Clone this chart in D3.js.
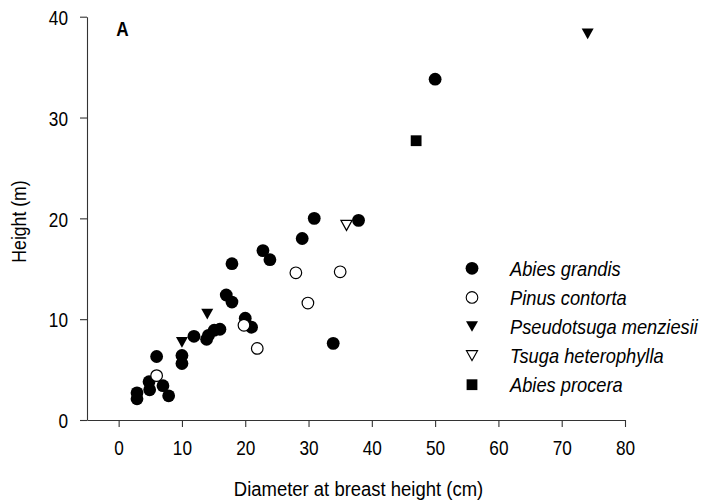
<!DOCTYPE html>
<html>
<head>
<meta charset="utf-8">
<script src="https://cdn.jsdelivr.net/npm/d3@7/dist/d3.min.js"></script>
<style>
  html, body { margin: 0; padding: 0; background: #fff; }
  svg { display: block; }
  text { font-family: "Liberation Sans", Arial, sans-serif; fill: #000; }
</style>
</head>
<body>
<svg id="chart" width="703" height="504"></svg>
<script>
// Diameter at breast height (cm) and tree height (m), per species
const abiesGrandisDbh    = [22.8, 23.9, 17.9, 17.0, 17.9, 20.0, 21.0, 11.9, 13.9, 14.2, 15.1, 16.0, 10.0, 10.0, 6.0, 4.8, 4.9, 7.0, 2.9, 2.9, 7.9, 30.9, 37.9, 29.0, 33.9, 50.0];
const abiesGrandisHeight = [16.8, 15.9, 15.5, 12.4, 11.7, 10.1, 9.2, 8.3, 8.0, 8.4, 8.9, 9.0, 6.4, 5.6, 6.3, 3.8, 3.0, 3.4, 2.7, 2.1, 2.4, 20.0, 19.8, 18.0, 7.6, 33.8];
const pinusContortaDbh    = [6.0, 19.8, 21.9, 28.0, 35.0, 29.9];
const pinusContortaHeight = [4.4, 9.4, 7.1, 14.6, 14.7, 11.6];
const pseudotsugaDbh    = [14.0, 10.0, 74.1];
const pseudotsugaHeight = [10.5, 7.7, 38.3];
const tsugaDbh    = [36.0];
const tsugaHeight = [19.3];
const abiesProceraDbh    = [47.0];
const abiesProceraHeight = [27.7];

const speciesNames = ["Abies grandis", "Pinus contorta", "Pseudotsuga menziesii", "Tsuga heterophylla", "Abies procera"];
const xTicks = [0, 10, 20, 30, 40, 50, 60, 70, 80];
const yTicks = [0, 10, 20, 30, 40];

const species = [
  { name: speciesNames[0], dbh: abiesGrandisDbh, height: abiesGrandisHeight, shape: "circle",   fill: "#000" },
  { name: speciesNames[1], dbh: pinusContortaDbh, height: pinusContortaHeight, shape: "circle",   fill: "#fff" },
  { name: speciesNames[2], dbh: pseudotsugaDbh, height: pseudotsugaHeight, shape: "triangle", fill: "#000" },
  { name: speciesNames[3], dbh: tsugaDbh, height: tsugaHeight, shape: "triangle", fill: "#fff" },
  { name: speciesNames[4], dbh: abiesProceraDbh, height: abiesProceraHeight, shape: "square",   fill: "#000" }
];

const svg = d3.select("#chart");

const x = d3.scaleLinear().domain([-5, 80]).range([87, 625]);
const y = d3.scaleLinear().domain([0, 40]).range([420, 16.7]);

// condensed text: place at (tx, ty) and squeeze horizontally
function placeNarrow(sel, tx, ty, sx, extra) {
  sel.attr("x", 0).attr("y", 0)
     .attr("transform", `translate(${tx},${ty})${extra || ""} scale(${sx},1)`);
  return sel;
}

// marker path centred on the origin
function markerPath(shape, filled) {
  if (shape === "circle") {
    const r = filled ? 6.4 : 5.8;
    const p = d3.path();
    p.arc(0, 0, r, 0, 2 * Math.PI);
    p.closePath();
    return p.toString();
  }
  if (shape === "triangle") {
    const w = filled ? 6 : 5.6, h = filled ? 5.3 : 5;
    return `M${-w},${-h}L${w},${-h}L0,${h}Z`;
  }
  const s = 5.4;
  return `M${-s},${-s}H${s}V${s}H${-s}Z`;
}

// axes
const xAxis = d3.axisBottom(x).tickValues(xTicks).tickSizeInner(7).tickSizeOuter(0);
const yAxis = d3.axisLeft(y).tickValues(yTicks).tickSizeInner(7).tickSizeOuter(0);

const gx = svg.append("g").attr("transform", "translate(0,420)").call(xAxis);
const gy = svg.append("g").attr("transform", "translate(87,0)").call(yAxis);

[gx, gy].forEach(g => {
  g.selectAll("path.domain").attr("stroke", "#333").attr("stroke-width", 1.1);
  g.selectAll(".tick line").attr("stroke", "#333").attr("stroke-width", 1.1);
  g.selectAll(".tick text")
    .attr("font-family", null)
    .attr("font-size", 21)
    .attr("fill", "#000")
    .attr("dy", null);
});
gx.selectAll(".tick text").each(function() {
  placeNarrow(d3.select(this), 0, 35.2, 0.82);
});
gy.selectAll(".tick text").each(function() {
  placeNarrow(d3.select(this), -19, 7.8, 0.82);
});

// axis titles
placeNarrow(svg.append("text"), 358.5, 495.5, 0.88)
  .attr("text-anchor", "middle")
  .attr("font-size", 21)
  .text("Diameter at breast height (cm)");

placeNarrow(svg.append("text"), 25.5, 221.5, 0.84, " rotate(-90)")
  .attr("text-anchor", "middle")
  .attr("font-size", 21)
  .text("Height (m)");

// panel letter
placeNarrow(svg.append("text"), 116.2, 35.5, 0.86)
  .attr("font-size", 20)
  .attr("font-weight", "bold")
  .text("A");

// points, species in drawing order
const plot = svg.append("g");
species.forEach(sp => {
  const filled = sp.fill === "#000";
  plot.selectAll(null)
    .data(sp.dbh.map((d, i) => [d, sp.height[i]]))
    .enter().append("path")
    .attr("d", markerPath(sp.shape, filled))
    .attr("transform", d => `translate(${x(d[0])},${y(d[1])})`)
    .attr("fill", sp.fill)
    .attr("stroke", "#000")
    .attr("stroke-width", filled ? 0 : 1.2);
});

// legend
const legend = svg.append("g");
species.forEach((sp, i) => {
  const filled = sp.fill === "#000";
  const cy = 268.3 + i * 29.1;
  legend.append("path")
    .attr("d", markerPath(sp.shape, filled))
    .attr("transform", `translate(472,${cy})`)
    .attr("fill", sp.fill)
    .attr("stroke", "#000")
    .attr("stroke-width", filled ? 0 : 1.1);
  placeNarrow(legend.append("text"), 510, cy + 7.6, 0.87)
    .attr("font-size", 21)
    .attr("font-style", "italic")
    .text(sp.name);
});
</script>
</body>
</html>
